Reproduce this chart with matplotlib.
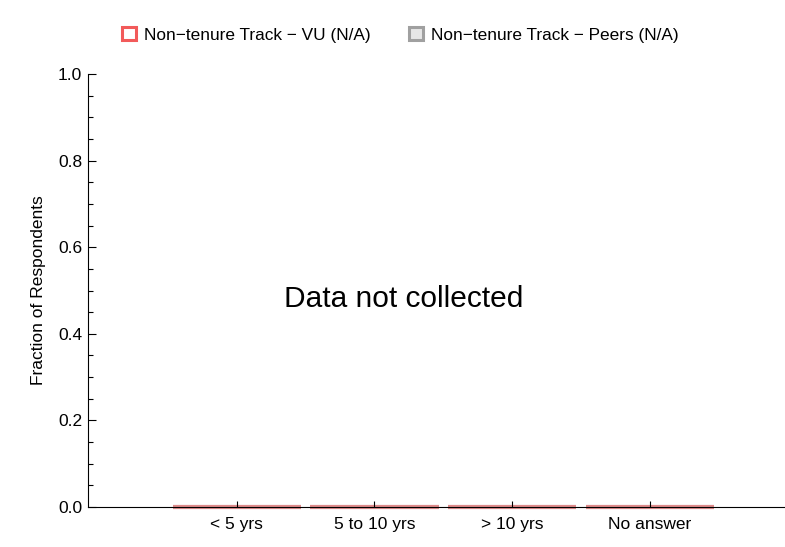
import matplotlib
matplotlib.use("Agg")
import matplotlib.pyplot as plt
from matplotlib.patches import Patch
from matplotlib.ticker import MultipleLocator
import numpy as np

categories = ["< 5 yrs", "5 to 10 yrs", "> 10 yrs", "No answer"]
vu_values = [0.0, 0.0, 0.0, 0.0]
peer_values = [0.0, 0.0, 0.0, 0.0]
vu_label = "Non\u2212tenure Track \u2212 VU (N/A)"
peer_label = "Non\u2212tenure Track \u2212 Peers (N/A)"

plt.rcParams['font.family'] = ['Liberation Sans', 'DejaVu Sans']

red = "#f25a5a"
grey_edge = "#a0a0a0"
grey_face = "#e6e6e6"

fig = plt.figure(figsize=(7.85, 5.47), dpi=100)
ax = fig.add_axes([0.112, 0.0731, 0.888, 0.7916])

x = np.arange(len(categories))
ax.bar(x, peer_values, width=0.93, color=grey_face, edgecolor=grey_edge,
       linewidth=3, alpha=0.6, clip_on=False, zorder=1)
ax.bar(x, vu_values, width=0.93, color="white", edgecolor=red,
       linewidth=3, alpha=0.55, clip_on=False, zorder=1.5)

ax.set_xlim(-1.08, 3.98)
ax.set_ylim(0, 1.0)
ax.set_xticks(x)
ax.set_xticklabels(categories, fontsize=12.5)
ax.yaxis.set_major_locator(MultipleLocator(0.2))
ax.yaxis.set_minor_locator(MultipleLocator(0.05))
ax.yaxis.set_major_formatter(matplotlib.ticker.FormatStrFormatter("%.1f"))
ax.tick_params(axis='y', which='major', direction='in', length=6, width=0.8,
               labelsize=12.5, pad=4)
ax.tick_params(axis='y', which='minor', direction='in', length=3.5, width=0.8)
ax.tick_params(axis='x', which='major', direction='in', length=4, width=0.8, pad=7)
ax.spines['top'].set_visible(False)
ax.spines['right'].set_visible(False)
ax.set_ylabel("Fraction of Respondents", fontsize=12.5, labelpad=9)

ax.text(0.453, 0.48, "Data not collected", transform=ax.transAxes,
        ha='center', va='center', fontsize=21.5)

handles = [Patch(facecolor="white", edgecolor=red, linewidth=2.2, label=vu_label),
           Patch(facecolor=grey_face, edgecolor=grey_edge, linewidth=2.2, label=peer_label)]
fig.legend(handles=handles, loc='center', bbox_to_anchor=(0.51, 0.936), ncol=2,
           frameon=False, fontsize=12.4, handlelength=0.8, handleheight=0.8,
           handletextpad=0.5, columnspacing=2.2)

fig.savefig("out.png", dpi=100)
